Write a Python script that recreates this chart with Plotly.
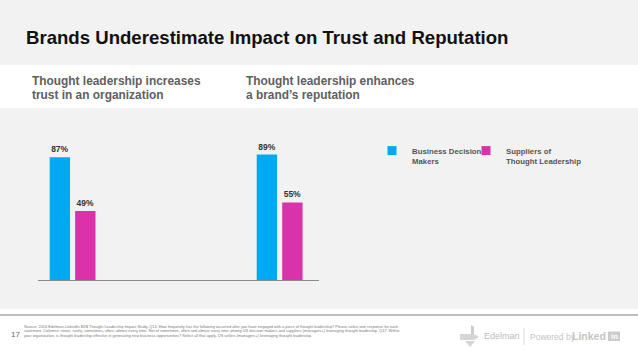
import plotly.graph_objects as go

W, H = 638, 359

# ---- data ----
categories = ["Thought leadership increases trust in an organization",
              "Thought leadership enhances a brand's reputation"]
series_names = ["Business Decision<br>Makers", "Suppliers of<br>Thought Leadership"]
decision_makers = [87, 89]
suppliers = [49, 55]
colors = ["#00AAF2", "#D932AA"]

def px(x):
    return x / W

def py(y):
    return 1 - y / H

FONT = "Liberation Sans, Arial, sans-serif"

fig = go.Figure()
legends = ["legend", "legend2"]
for name, vals, col, lg in zip(series_names, [decision_makers, suppliers], colors, legends):
    fig.add_trace(go.Bar(
        x=categories, y=vals, name=name, legendgroup=name, showlegend=False,
        marker=dict(color=col, line=dict(width=0)),
        texttemplate="<b>%{y}%</b>", textposition="outside",
        textfont=dict(size=8.5, color="#333333", family=FONT),
        cliponaxis=False,
    ))
    fig.add_trace(go.Scatter(
        x=[None], y=[None], mode="markers", name="<b>" + name + "</b>", legendgroup=name,
        marker=dict(symbol="square", size=9, color=col, line=dict(width=0)),
        legend=lg, showlegend=True,
    ))

shapes = [
    dict(type="rect", xref="paper", yref="paper", x0=0, x1=1, y0=py(108), y1=py(65),
         fillcolor="white", line=dict(width=0), layer="below"),
    dict(type="rect", xref="paper", yref="paper", x0=0, x1=1, y0=0, y1=py(309),
         fillcolor="white", line=dict(width=0), layer="below"),
    dict(type="line", xref="paper", yref="paper", x0=0, x1=1, y0=py(315), y1=py(315),
         line=dict(color="#aaaaaa", width=1.5)),
    dict(type="line", xref="paper", yref="paper", x0=px(524), x1=px(524), y0=py(328), y1=py(345),
         line=dict(color="#dddddd", width=1)),
    dict(type="rect", xref="paper", yref="paper", x0=px(608), x1=px(620), y0=py(341), y1=py(331.5),
         fillcolor="#cccccc", line=dict(width=0)),
]

def poly(pts):
    return "M" + " L".join(f"{px(x)},{py(y)}" for x, y in pts) + " Z"

shapes.append(dict(type="path", xref="paper", yref="paper",
                   path=poly([(471, 325), (474, 327), (474, 339), (471, 339)]),
                   fillcolor="#cccccc", line=dict(width=0)))
shapes.append(dict(type="path", xref="paper", yref="paper",
                   path=poly([(460, 334), (474, 334), (479, 337), (474, 340), (460, 340)]),
                   fillcolor="#d6d6d6", line=dict(width=0)))
shapes.append(dict(type="path", xref="paper", yref="paper",
                   path=poly([(465, 341), (475, 341), (470, 347)]),
                   fillcolor="#d6d6d6", line=dict(width=0)))

ann = []
def text(x, y, s, size, color, anchor="left", bold=False, yanchor="middle"):
    ann.append(dict(x=px(x), y=py(y), xref="paper", yref="paper",
                    text=("<b>" + s + "</b>") if bold else s,
                    showarrow=False, xanchor=anchor, yanchor=yanchor, borderpad=0,
                    font=dict(size=size, color=color, family=FONT)))

text(25, 38, "Brands Underestimate Impact on Trust and Reputation", 18.6, "#111111", bold=True)
text(31, 81, "Thought leadership increases", 11.9, "#606060", bold=True)
text(31, 95, "trust in an organization", 11.9, "#606060", bold=True)
text(245, 81, "Thought leadership enhances", 11.9, "#606060", bold=True)
text(245, 95, "a brand\u2019s reputation", 11.9, "#606060", bold=True)

text(10, 334, "17", 8, "#666666")
src = [
    "Source: 2016 Edelman-LinkedIn B2B Thought Leadership Impact Study, Q13. How frequently has the following occurred after you have engaged with a piece of thought leadership? Please select one response for each",
    "statement. Columns: never, rarely, sometimes, often, almost every time. Net of sometimes, often and almost every time among US decision makers and suppliers (managers+) leveraging thought leadership. Q17. Within",
    "your organization, is thought leadership effective in generating new business opportunities? Select all that apply. US sellers (managers+) leveraging thought leadership.",
]
for i, s in enumerate(src):
    text(23, 326 + 4.7 * i, s, 3.9, "#777777")

text(483, 336, "Edelman", 9, "#bbbbbb")
text(529, 337, "Powered by", 8.5, "#c4c4c4")
text(607, 336, "Linked", 10.5, "#c4c4c4", anchor="right", bold=True)
text(614, 336.5, "in", 8, "white", anchor="center", bold=True)

leg_common = dict(orientation="v", xanchor="left", yanchor="top", valign="top",
                  bgcolor="rgba(0,0,0,0)", borderwidth=0,
                  font=dict(size=7.8, color="#555555", family=FONT))

fig.update_layout(
    width=W, height=H,
    margin=dict(l=0, r=0, t=0, b=0),
    paper_bgcolor="#f2f2f2", plot_bgcolor="rgba(0,0,0,0)",
    barmode="group", bargap=0.754, bargroupgap=0.2,
    showlegend=True,
    legend=dict(x=px(372), y=py(139), **leg_common),
    legend2=dict(x=px(466), y=py(139), **leg_common),
    xaxis=dict(domain=[px(38), px(319)], range=[-0.167, 1.19], showline=True,
               linecolor="#8a8a8a", linewidth=1, showticklabels=False, ticks="",
               showgrid=False, zeroline=False, fixedrange=True),
    yaxis=dict(domain=[py(280), py(139)], range=[0, 100], visible=False, showgrid=False,
               zeroline=False),
    shapes=shapes, annotations=ann,
    font=dict(family=FONT),
)

fig.write_html("out.html", config={"displayModeBar": False},
               post_script="document.body.style.margin='0px';")
